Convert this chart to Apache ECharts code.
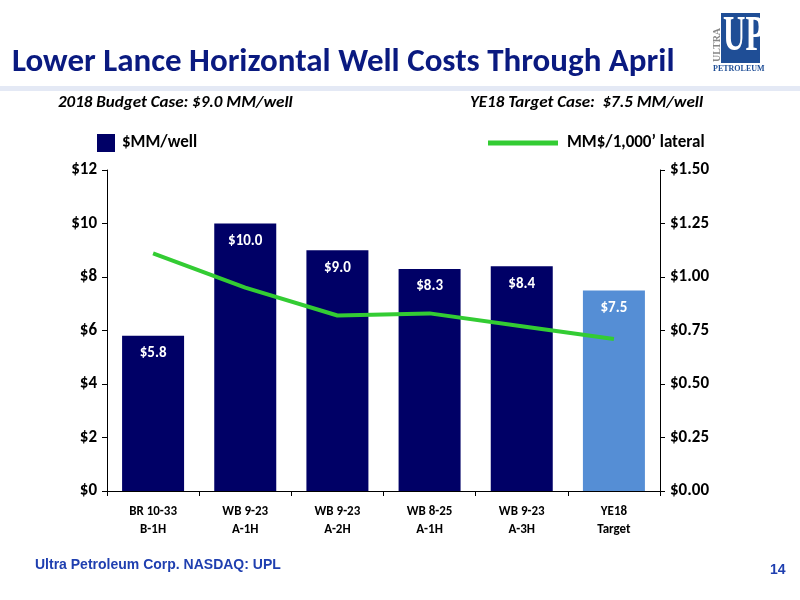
<!DOCTYPE html><html><head><meta charset="utf-8"><script src="https://cdn.jsdelivr.net/npm/echarts@6/dist/echarts.min.js"></script>
<style>body{margin:0}#c{width:800px;height:600px}</style></head><body><div id="c"></div><script>
const categories=['BR 10-33\nB-1H','WB 9-23\nA-1H','WB 9-23\nA-2H','WB 8-25\nA-1H','WB 9-23\nA-3H','YE18\nTarget'];
const costs=[5.8,10.0,9.0,8.3,8.4,7.5];
const perLateral=[1.11,0.95,0.82,0.83,0.77,0.71];
const leftTicks=['$0','$2','$4','$6','$8','$10','$12'];
const c=echarts.init(document.getElementById('c'));
const F='Calibri, Carlito, "Open Sans", sans-serif';
c.setOption({
animation:false,backgroundColor:'#fff',
grid:{left:107,right:140,top:170,bottom:109},
legend:{show:false},
graphic:[
{type:'text',left:12,top:46,style:{text:'Lower Lance Horizontal Well Costs Through April',font:'bold 33px '+F,fill:'#0A1A80'}},
{type:'rect',shape:{x:0,y:86,width:800,height:5},style:{fill:'#E4E9F5'}},
{type:'text',left:58,top:94,style:{text:'2018 Budget Case: $9.0 MM/well',font:'italic bold 17px '+F,fill:'#000'}},
{type:'text',left:470,top:94,style:{text:'YE18 Target Case:  $7.5 MM/well',font:'italic bold 17px '+F,fill:'#000'}},
{type:'rect',shape:{x:97,y:134,width:18,height:18},style:{fill:'#000066'}},
{type:'text',left:122,top:134,style:{text:'$MM/well',font:'bold 17px '+F,fill:'#000'}},
{type:'line',shape:{x1:488,y1:143,x2:558,y2:143},style:{stroke:'#33CC33',lineWidth:5}},
{type:'text',left:567,top:134,style:{text:'MM$/1,000\u2019 lateral',font:'bold 17px '+F,fill:'#000'}},
{type:'rect',shape:{x:721,y:13,width:39,height:50},style:{fill:'#1F4E96'}},
{type:'text',x:723,y:12,scaleX:0.62,style:{text:'UP',font:'bold 50px "Liberation Serif", serif',fill:'#fff'}},
{type:'text',left:713,top:65,style:{text:'PETROLEUM',font:'bold 8px "Liberation Serif", serif',fill:'#1F4E96'}},
{type:'text',x:712,y:62,rotation:Math.PI/2,style:{text:'ULTRA',font:'bold 10px "Liberation Serif", serif',fill:'#888'}},
{type:'text',left:35,top:558,style:{text:'Ultra Petroleum Corp. NASDAQ: UPL',font:'bold 14px Arial, "Liberation Sans", sans-serif',fill:'#1F3FB0'}},
{type:'text',left:770,top:563,style:{text:'14',font:'bold 14px Arial, "Liberation Sans", sans-serif',fill:'#1F3FB0'}}
],
xAxis:{type:'category',data:categories,axisTick:{show:true,interval:0,length:5},axisLine:{lineStyle:{color:'#000'}},
axisLabel:{interval:0,color:'#000',fontWeight:'bold',fontSize:13,fontFamily:F,lineHeight:18,margin:12}},
yAxis:[{type:'value',min:0,max:12,interval:2,splitLine:{show:false},axisLine:{show:true,lineStyle:{color:'#000'}},axisTick:{show:true},
axisLabel:{formatter:v=>leftTicks[v/2],color:'#000',fontWeight:'bold',fontSize:17,fontFamily:F,margin:10}},
{type:'value',min:0,max:1.5,interval:0.25,splitLine:{show:false},axisLine:{show:true,lineStyle:{color:'#000'}},axisTick:{show:true},
axisLabel:{formatter:v=>'$'+v.toFixed(2),color:'#000',fontWeight:'bold',fontSize:17,fontFamily:F,margin:10}}],
series:[{type:'bar',data:costs.map((v,i)=>({value:v,itemStyle:{color:i==5?'#558ED5':'#000066'}})),barWidth:62,
label:{show:true,position:'insideTop',distance:10,formatter:p=>'$'+p.value.toFixed(1),color:'#fff',fontWeight:'bold',fontSize:15,fontFamily:F}},
{type:'line',yAxisIndex:1,data:perLateral,symbol:'none',lineStyle:{color:'#33CC33',width:4}}]
});
</script></body></html>
